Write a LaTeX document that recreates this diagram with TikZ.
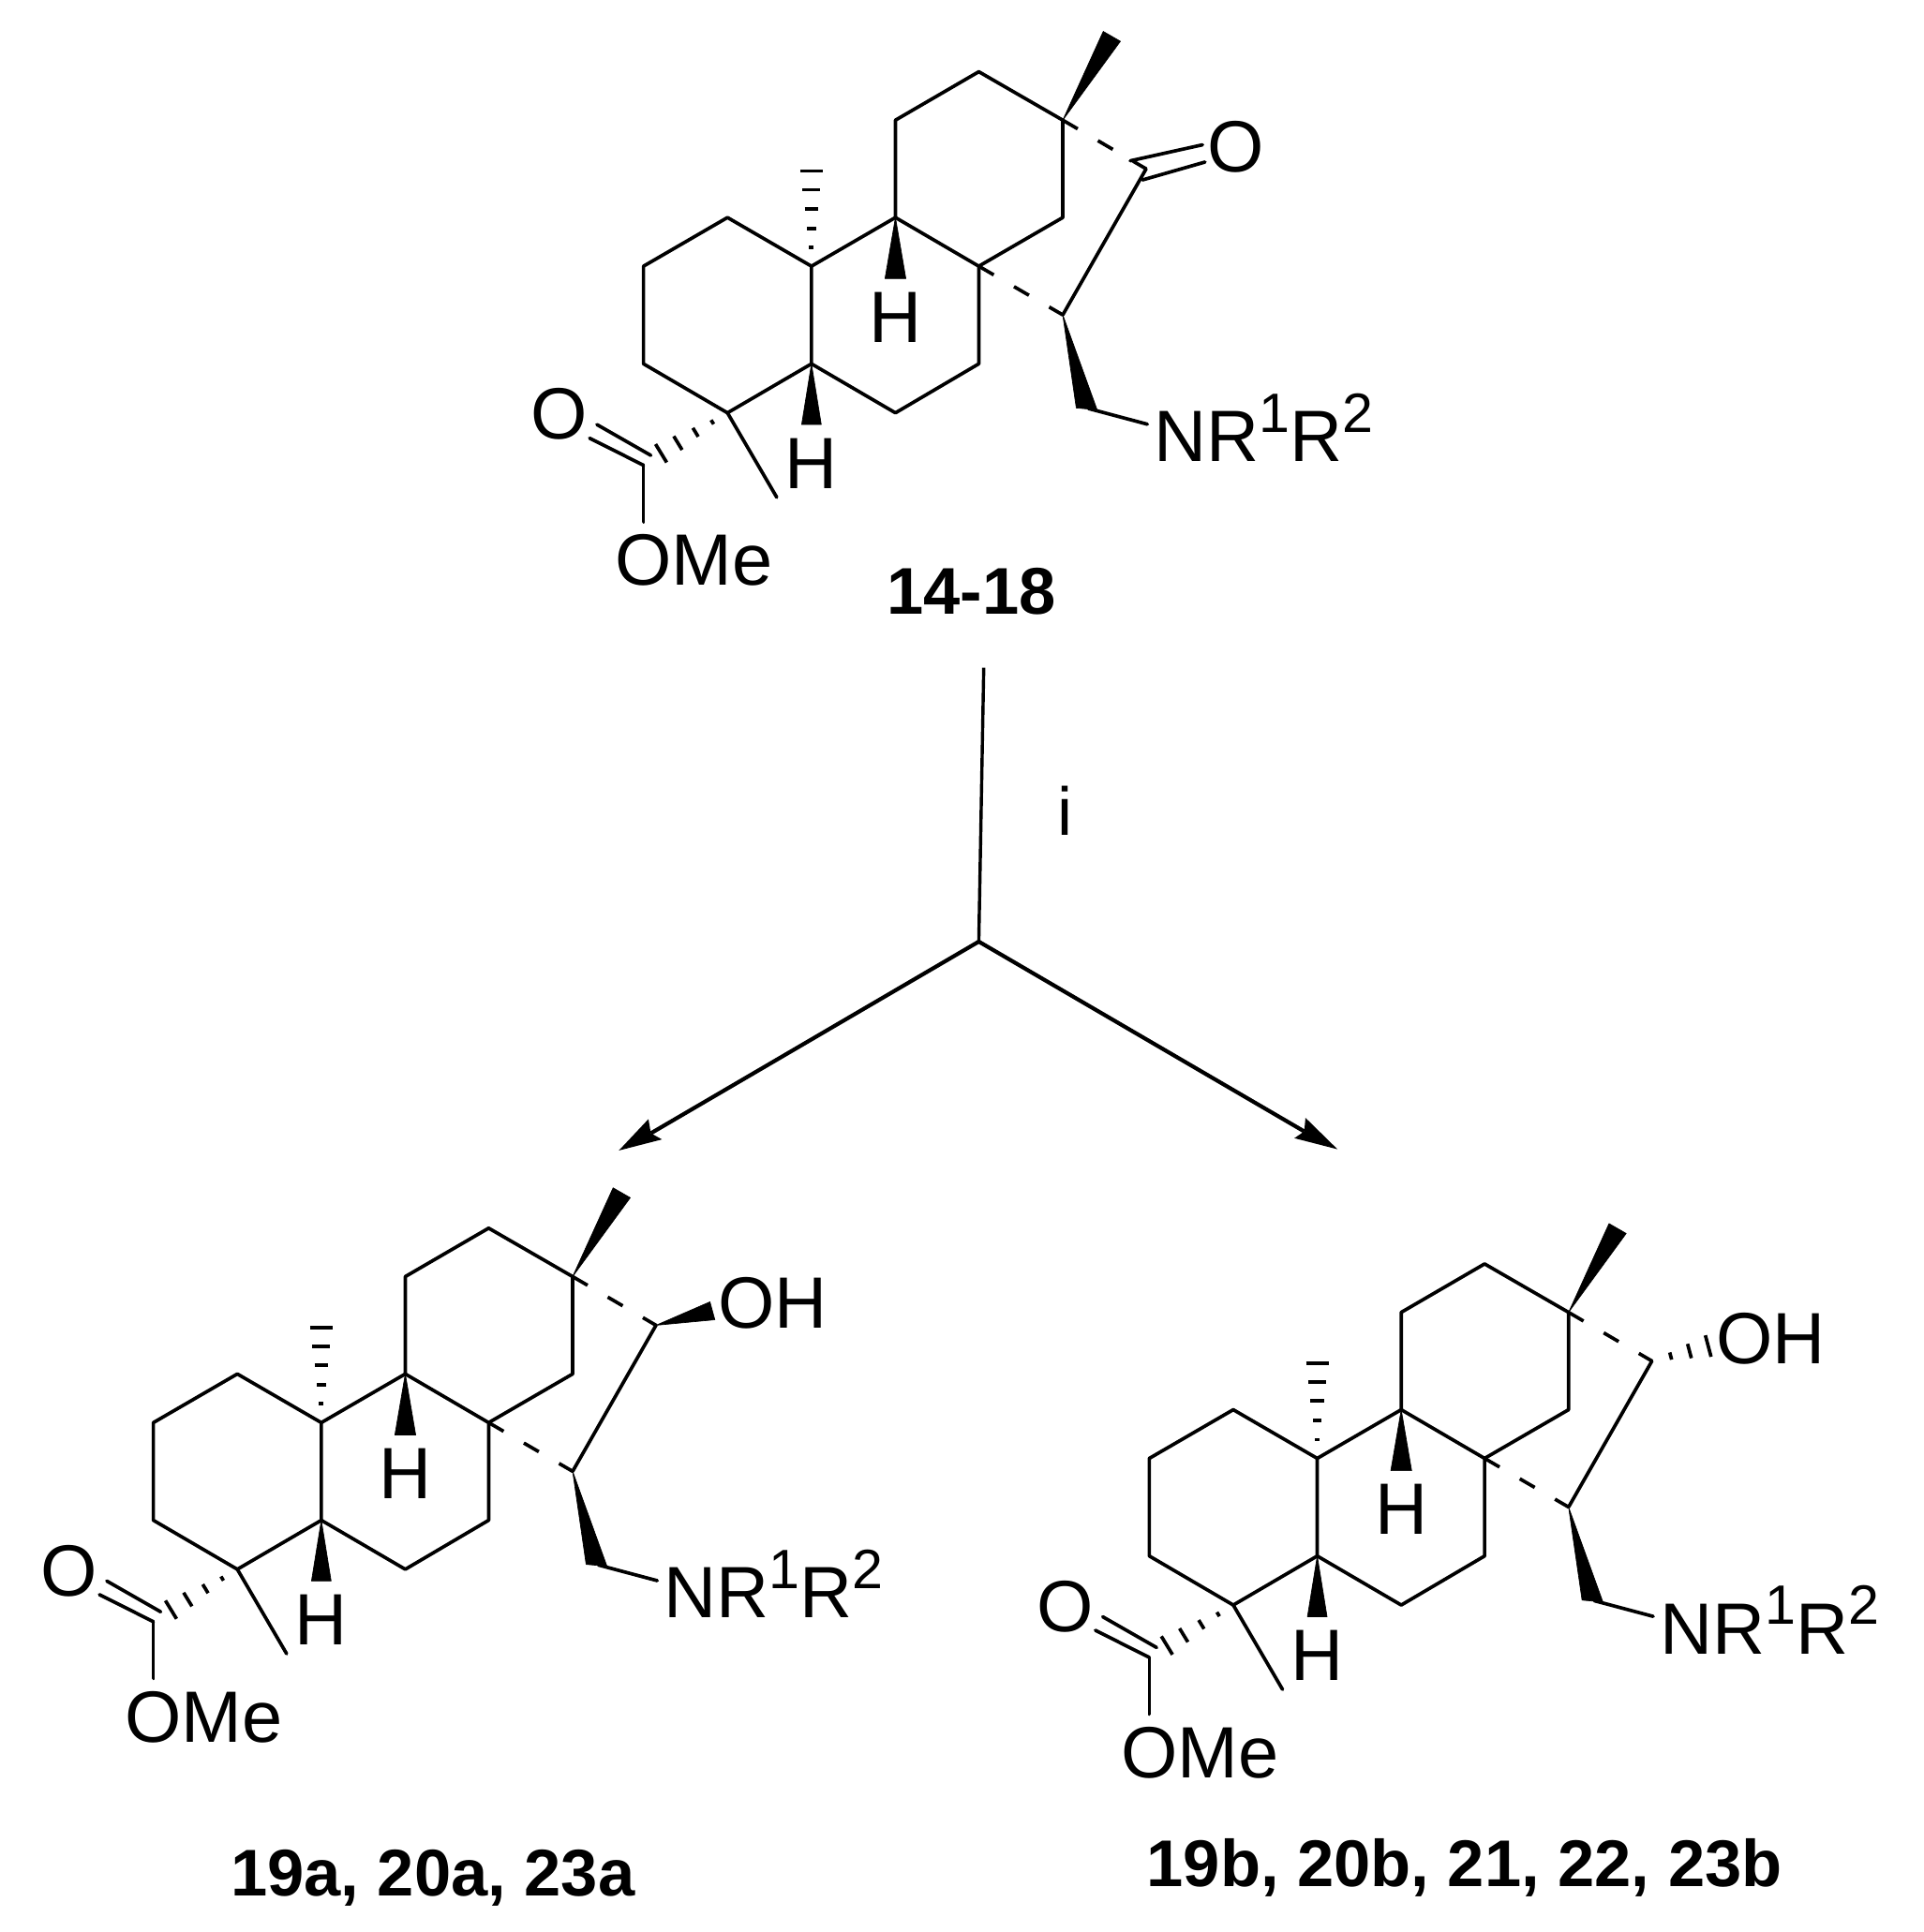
\documentclass[tikz,border=0pt]{standalone}
\usepackage{fontspec}
\setmainfont{Liberation Sans}
\usetikzlibrary{calc}
\tikzset{
  bond/.style={line width=2.8pt,line cap=round,line join=round},
  dashbond/.style={line width=2.8pt,dash pattern=on 14pt off 19pt},
  arrowline/.style={line width=3.2pt},
  stemline/.style={line width=2.6pt},
  wed/.style={fill=black,draw=black,line width=0.5pt,line join=round},
  lab/.style={inner sep=0pt,outer sep=0pt,font=\fontsize{59}{66}\selectfont},
  blab/.style={inner sep=0pt,outer sep=0pt,font=\fontsize{53.6}{60}\selectfont\bfseries}
}
\newcommand\nrr{NR\raisebox{24pt}{\fontsize{45}{50}\selectfont 1}R\raisebox{24pt}{\fontsize{45}{50}\selectfont 2}}
% hashed wedge: narrow end, wide end, half width, positions
\newcommand\hashw[4]{\foreach \t in {#4}{%
  \path ($(#1)!\t!(#2)$) coordinate (hm);
  \draw[line width=2.8pt] ($(hm)!\t*#3!90:(#2)$) -- ($(hm)!\t*#3!-90:(#2)$);}}
% skeleton: #1 prefix, #2 dx, #3 dy, #4 extra content in same frame
\newcommand\skel[4]{%
\begin{scope}[shift={(#2+2.87,#3-1.5)},x=0.9945pt]
  \coordinate (#1a1) at (522,217.5);   \coordinate (#1a2) at (590.5,178);
  \coordinate (#1a3) at (659,217.5);   \coordinate (#1a4) at (659,296.7);
  \coordinate (#1a5) at (590.5,336.5); \coordinate (#1a6) at (522,296.7);
  \coordinate (#1b2) at (727.5,178);   \coordinate (#1b3) at (795.5,217.5);
  \coordinate (#1b4) at (795.5,296.7); \coordinate (#1b5) at (727.5,336.5);
  \coordinate (#1c2) at (727.5,99);    \coordinate (#1c3) at (795.5,59.7);
  \coordinate (#1c4) at (864,99);      \coordinate (#1c5) at (864,178);
  \coordinate (#1d1) at (864,257);     \coordinate (#1d2) at (932,138.5);
  \coordinate (#1m1) at (897,27);      \coordinate (#1m2) at (911,35);
  \coordinate (#1w1) at (875,332.5);   \coordinate (#1w2) at (892,334);
  \coordinate (#1w3) at (885,333);     \coordinate (#1n)  at (933,345.7);
  \coordinate (#1h1) at (719,227.5);   \coordinate (#1h2) at (736,227.5);
  \coordinate (#1h3) at (651,346);     \coordinate (#1h4) at (667,346);
  \coordinate (#1me) at (630.7,405);
  \coordinate (#1ec) at (522,379);     \coordinate (#1eo) at (522,425);
  \coordinate (#1do1) at (478,357);    \coordinate (#1do2) at (484,346);
  \coordinate (#1do3) at (528,371);
  \coordinate (#1ht) at (659,137);     \coordinate (#1he) at (522,378);
  \draw[bond] (#1a1)--(#1a2)--(#1a3)--(#1a4)--(#1a5)--(#1a6)--cycle;
  \draw[bond] (#1a3)--(#1b2)--(#1b3)--(#1b4)--(#1b5)--(#1a4);
  \draw[bond] (#1b2)--(#1c2)--(#1c3)--(#1c4)--(#1c5)--(#1b3);
  \draw[bond] (#1d2)--(#1d1);
  \draw[dashbond] (#1c4)--(#1d2);
  \draw[dashbond] (#1b3)--(#1d1);
  \fill[wed] (#1c4)--(#1m1)--(#1m2)--cycle;
  \fill[wed] (#1d1)--(#1w1)--(#1w2)--cycle;
  \draw[bond] (#1w3)--(#1n);
  \fill[wed] (#1b2)--(#1h1)--(#1h2)--cycle;
  \fill[wed] (#1a4)--(#1h3)--(#1h4)--cycle;
  \draw[bond] (#1a5)--(#1me);
  \draw[bond] (#1ec)--(#1eo);
  \draw[bond] (#1ec)--(#1do1);
  \draw[bond] (#1do3)--(#1do2);
  \hashw{#1a3}{#1ht}{9.5pt}{0.19,0.38,0.58,0.77,0.96}
  \hashw{#1a5}{#1he}{11pt}{0.18,0.38,0.59,0.79}
  \node[lab,anchor=base] (#1H1) at (727.5,279) {H};
  \node[lab,anchor=base] (#1H2) at (659,398) {H};
  \node[lab,anchor=base] (#1O)  at (453.5,358) {O};
  \node[lab,anchor=base west] (#1OMe) at (499,476.5) {OMe};
  \node[lab,anchor=base west] (#1NR)  at (938.5,376) {\nrr};
  #4
\end{scope}}
\begin{document}
\begin{tikzpicture}[x=1pt,y=-1pt]
\useasboundingbox (0,0) rectangle (1560,1567.6);
\fill[white] (0,0) rectangle (1560,1567.6);
% top molecule
\skel{t}{0}{0}{%
  \coordinate (tk1) at (919,132); \coordinate (tk2) at (978,119);
  \coordinate (tk3) at (929,147.5); \coordinate (tk4) at (980,133);
  \draw[bond] (tk1)--(tk2);
  \draw[bond] (tk3)--(tk4);
  \node[lab,anchor=base] (tOk) at (1005,141) {O};
}
\node[blab,anchor=base] (lab1) at (788,498) {14-18};
% bottom left
\skel{l}{-397.6}{938.3}{%
  \coordinate (lo1) at (976,119.5); \coordinate (lo2) at (980,134);
  \fill[wed] (ld2)--(lo1)--(lo2)--cycle;
  \node[lab,anchor=base west] (lOH) at (982.5,141) {OH};
}
\node[blab,anchor=base] (lab2) at (351,1538) {19a, 20a, 23a};
% bottom right
\skel{r}{410.3}{967.3}{%
  \coordinate (ro1) at (983,125);
  \hashw{rd2}{ro1}{10pt}{0.3,0.6,0.9}
  \node[lab,anchor=base west] (rOH) at (984.5,141) {OH};
}
\node[blab,anchor=base] (lab3) at (1188,1531) {19b, 20b, 21, 22, 23b};
% reaction arrows
\coordinate (st) at (798,541.8);
\coordinate (jn) at (794,764);
\coordinate (ltip) at (502,933.5);
\coordinate (lb1) at (526,908); \coordinate (lb2) at (537,924.5); \coordinate (ln) at (528,919.5);
\coordinate (rtip) at (1085,932.5);
\coordinate (rb1) at (1059,907); \coordinate (rb2) at (1050,923.5); \coordinate (rn) at (1058,918);
\draw[stemline] (st)--(jn);
\draw[arrowline] (jn)--(ln);
\draw[arrowline] (jn)--(rn);
\fill (ltip)--(lb1)--(ln)--(lb2)--cycle;
\fill (rtip)--(rb1)--(rn)--(rb2)--cycle;
\node[lab,anchor=base,font=\fontsize{55}{60}\selectfont] (reag) at (864,677.6) {i};
\end{tikzpicture}
\end{document}
